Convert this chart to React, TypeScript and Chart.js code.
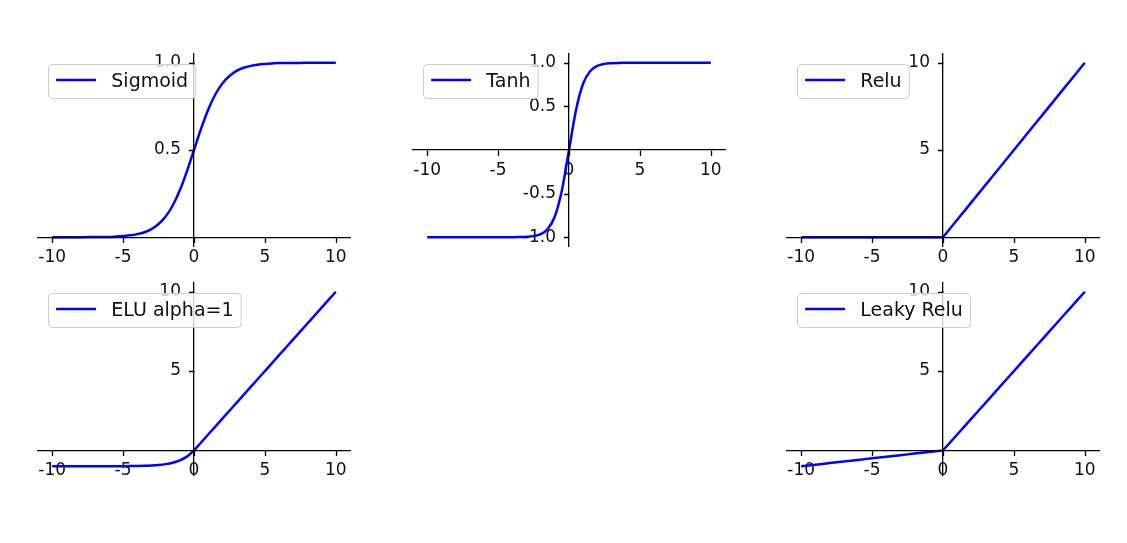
import React, { useEffect, useRef } from 'react';
import { Chart, registerables } from 'chart.js';

Chart.register(...registerables);

// ---------- data ----------
const xValues = [
  -10, -9.5, -9, -8.5, -8, -7.5, -7, -6.5, -6, -5.5, -5, -4.5, -4, -3.5, -3, -2.5, -2, -1.5, -1, -0.5,
  0, 0.5, 1, 1.5, 2, 2.5, 3, 3.5, 4, 4.5, 5, 5.5, 6, 6.5, 7, 7.5, 8, 8.5, 9, 9.5, 10,
];
const sigmoidValues = [
  0, 0, 0, 0, 0, 0.001, 0.001, 0.002, 0.002, 0.004, 0.007, 0.011, 0.018, 0.029, 0.047, 0.076, 0.119, 0.182, 0.269, 0.378,
  0.5, 0.622, 0.731, 0.818, 0.881, 0.924, 0.953, 0.971, 0.982, 0.989, 0.993, 0.996, 0.998, 0.998, 0.999, 0.999, 1, 1, 1, 1, 1,
];
const tanhValues = [
  -1, -1, -1, -1, -1, -1, -1, -1, -1, -1, -1, -1, -0.999, -0.998, -0.995, -0.987, -0.964, -0.905, -0.762, -0.462,
  0, 0.462, 0.762, 0.905, 0.964, 0.987, 0.995, 0.998, 0.999, 1, 1, 1, 1, 1, 1, 1, 1, 1, 1, 1, 1,
];
const reluValues = [
  0, 0, 0, 0, 0, 0, 0, 0, 0, 0, 0, 0, 0, 0, 0, 0, 0, 0, 0, 0,
  0, 0.5, 1, 1.5, 2, 2.5, 3, 3.5, 4, 4.5, 5, 5.5, 6, 6.5, 7, 7.5, 8, 8.5, 9, 9.5, 10,
];
const eluValues = [
  -1, -1, -1, -1, -1, -0.999, -0.999, -0.998, -0.998, -0.996, -0.993, -0.989, -0.982, -0.97, -0.95, -0.918, -0.865, -0.777, -0.632, -0.393,
  0, 0.5, 1, 1.5, 2, 2.5, 3, 3.5, 4, 4.5, 5, 5.5, 6, 6.5, 7, 7.5, 8, 8.5, 9, 9.5, 10,
];
const leakyReluValues = [
  -1, -0.95, -0.9, -0.85, -0.8, -0.75, -0.7, -0.65, -0.6, -0.55, -0.5, -0.45, -0.4, -0.35, -0.3, -0.25, -0.2, -0.15, -0.1, -0.05,
  0, 0.5, 1, 1.5, 2, 2.5, 3, 3.5, 4, 4.5, 5, 5.5, 6, 6.5, 7, 7.5, 8, 8.5, 9, 9.5, 10,
];

const xTicks = [-10, -5, 0, 5, 10];
const xTickLabels = ['-10', '-5', '0', '5', '10'];
const sigmoidYTicks = [0.5, 1.0];
const sigmoidYTickLabels = ['0.5', '1.0'];
const tanhYTicks = [-1, -0.5, 0.5, 1];
const tanhYTickLabels = ['-1.0', '-0.5', '0.5', '1.0'];
const linearYTicks = [5, 10];
const linearYTickLabels = ['5', '10'];

// ---------- layout / style ----------
const AX_W = 312;
const AX_H = 192;
const PAD_L = 40;
const PAD_R = 20;
const PAD_T = 20;
const PAD_B = 32;
const TICK_FONT = 17;
const LEGEND_FONT = 19;
const FONT_FAMILY = '"DejaVu Sans", sans-serif';
const LINE_COLOR = '#0000ff';
const TICK_LEN = 5.5;
const Y_LABEL_SHIFT = 13;

type PanelCfg = {
  label: string;
  values: number[];
  yMin: number;
  yMax: number;
  yTicks: number[];
  yLabels: string[];
  smooth: boolean;
  left: number;
  top: number;
};

const panels: PanelCfg[] = [
  { label: 'Sigmoid', values: sigmoidValues, yMin: -0.05, yMax: 1.05, yTicks: sigmoidYTicks, yLabels: sigmoidYTickLabels, smooth: true, left: 38, top: 54 },
  { label: 'Tanh', values: tanhValues, yMin: -1.1, yMax: 1.1, yTicks: tanhYTicks, yLabels: tanhYTickLabels, smooth: true, left: 413, top: 54 },
  { label: 'Relu', values: reluValues, yMin: -0.5, yMax: 10.5, yTicks: linearYTicks, yLabels: linearYTickLabels, smooth: false, left: 787, top: 54 },
  { label: 'ELU alpha=1', values: eluValues, yMin: -1.55, yMax: 10.55, yTicks: linearYTicks, yLabels: linearYTickLabels, smooth: true, left: 38, top: 283 },
  { label: 'Leaky Relu', values: leakyReluValues, yMin: -1.55, yMax: 10.55, yTicks: linearYTicks, yLabels: linearYTickLabels, smooth: false, left: 787, top: 283 },
];

// shift y tick labels left of the spine (Chart.js puts them flush on a value-positioned axis)
const yLabelShift = {
  id: 'yLabelShift',
  beforeDraw(chart: any) {
    const ys = chart.scales.y;
    const items = ys.getLabelItems(chart.chartArea);
    if (!items.__shifted) {
      items.forEach((it: any) => {
        it.options.translation[0] -= Y_LABEL_SHIFT;
      });
      items.__shifted = true;
    }
  },
};

// outward tick marks on the zero-positioned spines, drawn above the curves
const tickMarks = {
  id: 'tickMarks',
  afterDatasetsDraw(chart: any) {
    const ctx: CanvasRenderingContext2D = chart.ctx;
    const xs = chart.scales.x;
    const ys = chart.scales.y;
    const x0 = Math.round(xs.getPixelForValue(0)) + 0.5;
    const y0 = Math.round(ys.getPixelForValue(0)) + 0.5;
    ctx.save();
    ctx.strokeStyle = '#000';
    ctx.lineWidth = 1.3;
    ctx.beginPath();
    xs.ticks.forEach((t: any) => {
      const px = Math.round(xs.getPixelForValue(t.value)) + 0.5;
      ctx.moveTo(px, y0);
      ctx.lineTo(px, y0 + TICK_LEN);
    });
    ys.ticks.forEach((t: any) => {
      const py = Math.round(ys.getPixelForValue(t.value)) + 0.5;
      ctx.moveTo(x0, py);
      ctx.lineTo(x0 - TICK_LEN, py);
    });
    ctx.stroke();
    ctx.restore();
  },
};

const boxLegend = {
  id: 'boxLegend',
  afterDraw(chart: any) {
    const ctx: CanvasRenderingContext2D = chart.ctx;
    const ca = chart.chartArea;
    const ds = chart.data.datasets[0];
    ctx.save();
    ctx.font = `${LEGEND_FONT}px ${FONT_FAMILY}`;
    const tw = ctx.measureText(ds.label).width;
    const pad = 7.6;
    const handle = 40;
    const gap = 15.2;
    const x = ca.left + 10.5;
    const y = ca.top + 10.5;
    const w = pad * 2 + handle + gap + tw;
    const h = 34;
    ctx.beginPath();
    (ctx as any).roundRect(x, y, w, h, 4);
    ctx.fillStyle = 'rgba(255,255,255,0.8)';
    ctx.fill();
    ctx.strokeStyle = '#cccccc';
    ctx.lineWidth = 1;
    ctx.stroke();
    ctx.beginPath();
    ctx.moveTo(x + pad, y + h / 2 - 1.5);
    ctx.lineTo(x + pad + handle, y + h / 2 - 1.5);
    ctx.strokeStyle = ds.borderColor;
    ctx.lineWidth = ds.borderWidth;
    ctx.stroke();
    ctx.fillStyle = '#111';
    ctx.textBaseline = 'alphabetic';
    ctx.textAlign = 'left';
    ctx.fillText(ds.label, x + pad + handle + gap, y + h / 2 + 5.5);
    ctx.restore();
  },
};

function Panel({ cfg }: { cfg: PanelCfg }) {
  const ref = useRef<HTMLCanvasElement>(null);
  useEffect(() => {
    const tickFont = { family: FONT_FAMILY, size: TICK_FONT };
    const chart = new Chart(ref.current as HTMLCanvasElement, {
      type: 'line',
      data: {
        datasets: [
          {
            label: cfg.label,
            data: xValues.map((x, i) => ({ x, y: cfg.values[i] })),
            borderColor: LINE_COLOR,
            borderWidth: 2.5,
            pointRadius: 0,
            fill: false,
            tension: 0,
            cubicInterpolationMode: cfg.smooth ? 'monotone' : 'default',
          } as any,
        ],
      },
      options: {
        responsive: false,
        animation: false,
        events: [],
        layout: { padding: { left: PAD_L, right: PAD_R, top: PAD_T, bottom: PAD_B } },
        plugins: { legend: { display: false }, tooltip: { enabled: false } },
        scales: {
          x: {
            type: 'linear',
            min: -11,
            max: 11,
            position: { y: 0 } as any,
            afterBuildTicks: (s: any) => {
              s.ticks = xTicks.map((v) => ({ value: v }));
            },
            ticks: {
              callback: (_v: any, i: number) => xTickLabels[i],
              font: tickFont,
              color: '#111',
              padding: 4,
              maxRotation: 0,
              autoSkip: false,
            },
            grid: { drawOnChartArea: false, drawTicks: true, tickLength: 6, tickColor: 'rgba(0,0,0,0)' },
            border: { display: true, color: '#000', width: 1.3, z: 1 },
          },
          y: {
            type: 'linear',
            min: cfg.yMin,
            max: cfg.yMax,
            position: { x: 0 } as any,
            afterBuildTicks: (s: any) => {
              s.ticks = cfg.yTicks.map((v) => ({ value: v }));
            },
            ticks: {
              callback: (_v: any, i: number) => cfg.yLabels[i],
              font: tickFont,
              color: '#111',
              padding: 4,
              autoSkip: false,
            },
            grid: { drawOnChartArea: false, drawTicks: true, tickLength: 6, tickColor: 'rgba(0,0,0,0)' },
            border: { display: true, color: '#000', width: 1.3, z: 1 },
          },
        },
      },
      plugins: [yLabelShift, tickMarks, boxLegend],
    });
    return () => chart.destroy();
  }, [cfg]);
  return (
    <canvas
      ref={ref}
      width={AX_W + PAD_L + PAD_R}
      height={AX_H + PAD_T + PAD_B}
      style={{ position: 'absolute', left: cfg.left - PAD_L, top: cfg.top - PAD_T, display: 'block' }}
    />
  );
}

export default function App() {
  return (
    <div style={{ position: 'fixed', left: 0, top: 0, width: 1127, height: 543, background: '#fff', overflow: 'hidden' }}>
      {panels.map((p) => (
        <Panel key={p.label} cfg={p} />
      ))}
    </div>
  );
}
